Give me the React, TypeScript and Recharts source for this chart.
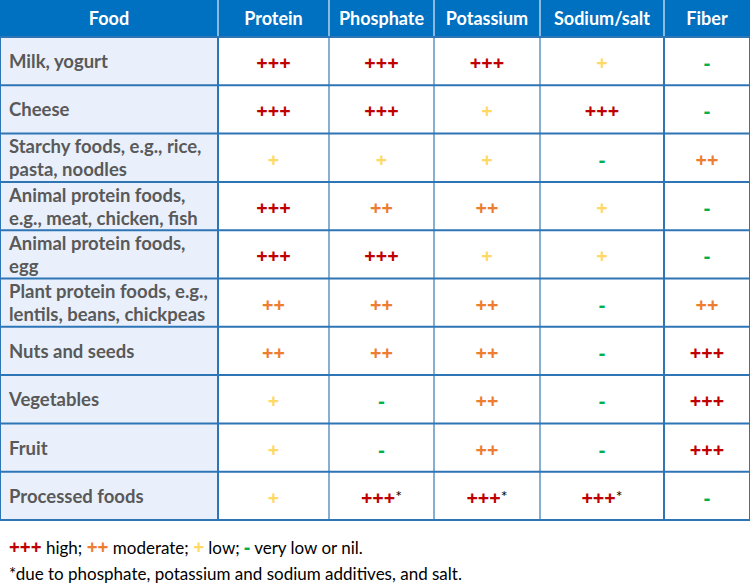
import React from 'react';
import { ScatterChart, Scatter, XAxis, YAxis, ReferenceArea, ReferenceLine } from 'recharts';

// table content
const nutrients = ['Protein', 'Phosphate', 'Potassium', 'Sodium/salt', 'Fiber'];
const foods = [
  ['Milk, yogurt'],
  ['Cheese'],
  ['Starchy foods, e.g., rice,', 'pasta, noodles'],
  ['Animal protein foods,', 'e.g., meat, chicken, fish'],
  ['Animal protein foods,', 'egg'],
  ['Plant protein foods, e.g.,', 'lentils, beans, chickpeas'],
  ['Nuts and seeds'],
  ['Vegetables'],
  ['Fruit'],
  ['Processed foods'],
];
// 3 = high, 2 = moderate, 1 = low, 0 = very low or nil
const protein = [3, 3, 1, 3, 3, 2, 2, 1, 1, 1];
const phosphate = [3, 3, 1, 2, 3, 2, 2, 0, 0, 3];
const potassium = [3, 1, 1, 2, 1, 2, 2, 2, 2, 3];
const sodium = [1, 3, 0, 1, 1, 0, 0, 0, 0, 3];
const fiber = [0, 0, 2, 0, 0, 2, 3, 3, 3, 0];
// additive marker, per nutrient, on the processed foods row
const additiveStar = [false, true, true, true, false];

const COLORS = {
  header: '#0070c0',
  firstCol: '#e9f0fb',
  border: '#2e75b6',
  divider: '#86afd0',
  headerDivider: '#b9d3ea',
  label: '#595959',
  levels: ['#00b050', '#ffd966', '#ed7d31', '#c00000'],
};

const FONT = 'Lato, "Open Sans", sans-serif';
const SIGN_FONT = '"Open Sans", sans-serif';
const COL_EDGES = [0, 218, 329, 434, 540, 664, 750];
const HEADER_UNITS = 0.766;

const levelText = (lvl: number) => (lvl === 0 ? '-' : '+'.repeat(lvl));

const columns = [protein, phosphate, potassium, sodium, fiber];
const colCenter = (j: number) => (COL_EDGES[j] + COL_EDGES[j + 1]) / 2;

const cellData = foods.flatMap((_, i) =>
  columns.map((col, j) => ({
    x: colCenter(j + 1),
    y: i + 0.5,
    level: col[i],
    star: i === foods.length - 1 && additiveStar[j],
  }))
);
const foodData = foods.map((lines, i) => ({ x: COL_EDGES[0], y: i + 0.5, lines }));
const headerData = ['Food', ...nutrients].map((name, j) => ({ x: colCenter(j), y: -HEADER_UNITS / 2, name }));

const CellShape = (props: any) => {
  const { cx, cy, payload } = props;
  return (
    <text x={cx} y={cy + 1} textAnchor="middle" dominantBaseline="central" fontFamily={SIGN_FONT} fontWeight={700} fontSize={20}>
      <tspan fill={COLORS.levels[payload.level]}>{levelText(payload.level)}</tspan>
      {payload.star && (
        <tspan fill="#000" fontFamily={FONT} fontWeight={400} fontSize={16} dy={-2}>
          *
        </tspan>
      )}
    </text>
  );
};

const FoodShape = (props: any) => {
  const { cx, cy, payload } = props;
  const n = payload.lines.length;
  return (
    <g>
      {payload.lines.map((l: string, k: number) => (
        <text
          key={k}
          x={cx + 9}
          y={cy + (k - (n - 1) / 2) * 23}
          dominantBaseline="central"
          fontFamily={FONT}
          fontWeight={700}
          fontSize={18.5}
          fill={COLORS.label}
        >
          {l}
        </text>
      ))}
    </g>
  );
};

const HeaderShape = (props: any) => {
  const { cx, cy, payload } = props;
  return (
    <text x={cx} y={cy} textAnchor="middle" dominantBaseline="central" fontFamily={FONT} fontWeight={700} fontSize={18} fill="#fff">
      {payload.name}
    </text>
  );
};

const legendItems = [3, 2, 1, 0];
const legendNames = ['high', 'moderate', 'low', 'very low or nil'];

export default function App() {
  const rows = foods.map((_, i) => i);
  return (
    <div style={{ position: 'absolute', left: 0, top: 0, width: 750, height: 583, background: '#fff' }}>
      <ScatterChart width={750} height={521} margin={{ top: 0, right: 0, bottom: 1, left: 0 }}>
        <XAxis type="number" dataKey="x" domain={[0, 750]} allowDataOverflow hide />
        <YAxis type="number" dataKey="y" domain={[-HEADER_UNITS, foods.length]} allowDataOverflow reversed hide />
        <ReferenceArea x1={0} x2={750} y1={-HEADER_UNITS} y2={0} fill={COLORS.header} fillOpacity={1} stroke="none" />
        <ReferenceArea x1={COL_EDGES[0]} x2={COL_EDGES[1]} y1={0} y2={foods.length} fill={COLORS.firstCol} fillOpacity={1} stroke="none" />
        {COL_EDGES.slice(1, -1).map((x) => (
          <ReferenceLine key={'h' + x} segment={[{ x, y: -HEADER_UNITS }, { x, y: 0 }]} stroke={COLORS.headerDivider} strokeWidth={1.5} />
        ))}
        {COL_EDGES.map((x, j) => (
          <ReferenceLine
            key={'v' + x}
            segment={[{ x, y: 0 }, { x, y: foods.length }]}
            stroke={j === 0 || j === COL_EDGES.length - 1 || j === 1 || j === 5 ? COLORS.border : COLORS.divider}
            strokeWidth={2}
          />
        ))}
        {[...rows, foods.length].map((r) => (
          <ReferenceLine key={'r' + r} y={r} stroke={COLORS.border} strokeWidth={2} />
        ))}
        <Scatter data={headerData} shape={<HeaderShape />} isAnimationActive={false} />
        <Scatter data={foodData} shape={<FoodShape />} isAnimationActive={false} />
        <Scatter data={cellData} shape={<CellShape />} isAnimationActive={false} />
      </ScatterChart>
      <div style={{ position: 'absolute', left: 9, top: 536, fontFamily: FONT, fontSize: 17, color: '#000', whiteSpace: 'nowrap', lineHeight: '22px' }}>
        {legendItems.map((lvl, k) => (
          <span key={lvl}>
            <span style={{ color: COLORS.levels[lvl], fontWeight: 700, fontFamily: SIGN_FONT, fontSize: 19 }}>{levelText(lvl)}</span> {legendNames[k]}
            {k < legendItems.length - 1 ? '; ' : '.'}
          </span>
        ))}
      </div>
      <div style={{ position: 'absolute', left: 9, top: 564, fontFamily: FONT, fontSize: 17, color: '#000', whiteSpace: 'nowrap', lineHeight: '20px' }}>
        *due to phosphate, potassium and sodium additives, and salt.
      </div>
    </div>
  );
}
